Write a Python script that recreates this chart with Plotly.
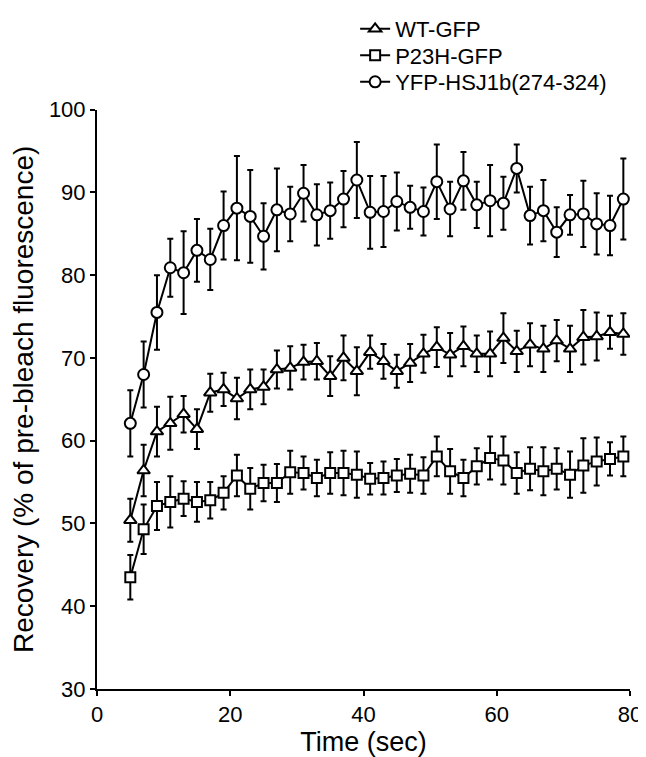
import plotly.graph_objects as go

time_sec = list(range(5, 80, 2))

wt_gfp = [50.4, 56.4, 61.1, 62.1, 63.2, 61.4, 65.8, 66.2, 65.1, 66.2,
          66.5, 68.6, 68.8, 69.5, 69.6, 67.8, 70.0, 68.4, 70.7, 69.6,
          68.4, 69.4, 70.5, 71.3, 70.4, 71.4, 70.5, 70.5, 72.4, 70.8,
          71.6, 71.1, 72.1, 71.1, 72.5, 72.6, 73.1, 72.9]
wt_gfp_err = [2.6, 3.1, 3.0, 3.2, 2.2, 2.4, 2.3, 2.0, 2.5, 2.4,
              2.1, 2.3, 2.6, 2.1, 2.2, 2.4, 2.7, 2.9, 2.0, 2.1,
              2.0, 2.3, 2.3, 2.4, 2.6, 2.4, 2.2, 2.7, 3.0, 2.5,
              2.6, 2.8, 2.5, 2.8, 3.3, 2.9, 2.0, 2.5]

p23h_gfp = [43.5, 49.3, 52.1, 52.6, 53.0, 52.6, 52.8, 53.7, 55.8, 54.2,
            54.9, 54.9, 56.2, 56.1, 55.5, 56.1, 56.1, 55.9, 55.4, 55.5,
            55.8, 56.0, 55.8, 58.1, 56.3, 55.5, 56.9, 57.9, 57.6, 56.1,
            56.6, 56.3, 56.6, 55.9, 57.0, 57.5, 57.8, 58.1]
p23h_gfp_err = [2.7, 3.0, 2.9, 3.1, 2.1, 2.4, 2.2, 2.0, 2.5, 2.5,
                2.2, 2.3, 2.6, 2.0, 2.2, 2.5, 2.7, 2.8, 1.9, 2.0,
                2.0, 2.3, 2.2, 2.4, 2.7, 2.2, 2.2, 2.6, 2.9, 2.5,
                2.6, 2.9, 2.5, 2.8, 3.3, 2.9, 2.0, 2.4]

yfp_hsj1b = [62.1, 68.0, 75.5, 80.9, 80.3, 83.0, 81.9, 86.0, 88.1, 87.1,
             84.7, 87.9, 87.4, 89.9, 87.3, 87.8, 89.2, 91.5, 87.6, 87.7,
             88.9, 88.2, 87.7, 91.3, 88.0, 91.4, 88.5, 89.0, 88.7, 92.9,
             87.2, 87.8, 85.2, 87.3, 87.4, 86.2, 86.0, 89.2]
yfp_hsj1b_err = [4.0, 4.0, 4.5, 3.5, 5.0, 3.8, 3.7, 4.1, 6.3, 5.6,
                 4.0, 5.0, 3.3, 3.4, 3.7, 3.4, 3.4, 4.6, 4.4, 4.3,
                 3.5, 2.6, 2.9, 4.5, 3.3, 3.5, 2.8, 4.3, 3.2, 2.9,
                 3.5, 3.7, 3.0, 2.4, 4.0, 3.7, 3.6, 4.9]

series = [
    ("WT-GFP", wt_gfp, wt_gfp_err, "triangle-up", 11, "legend"),
    ("P23H-GFP", p23h_gfp, p23h_gfp_err, "square", 10, "legend2"),
    ("YFP-HSJ1b(274-324)", yfp_hsj1b, yfp_hsj1b_err, "circle", 11, "legend3"),
]

FONT = "Arial, Liberation Sans, sans-serif"

fig = go.Figure()
for name, vals, errs, sym, size, leg in series:
    fig.add_trace(go.Scatter(
        x=time_sec, y=vals, name=name, mode="lines+markers", legend=leg,
        line=dict(color="black", width=2),
        marker=dict(symbol=sym, size=size, color="white",
                    line=dict(color="black", width=2)),
        error_y=dict(type="data", array=errs, visible=True,
                     color="black", thickness=2, width=3),
    ))

legend_common = dict(x=0.4843, xanchor="left", yanchor="top",
                     bgcolor="rgba(0,0,0,0)", font=dict(size=22),
                     itemwidth=30)

fig.update_layout(
    width=638, height=749,
    paper_bgcolor="white", plot_bgcolor="white",
    margin=dict(l=89, r=16, t=0, b=68),
    font=dict(family=FONT, size=22, color="black"),
    showlegend=True,
    legend=dict(y=1.0, **legend_common),
    legend2=dict(y=0.9611, **legend_common),
    legend3=dict(y=0.9222, **legend_common),
    xaxis=dict(range=[0, 80], tickvals=[0, 20, 40, 60, 80],
               showline=True, linecolor="black", linewidth=2,
               ticks="outside", ticklen=5, tickwidth=2, tickcolor="black",
               showgrid=False, zeroline=False, automargin=False,
               title=dict(text="Time (sec)", font=dict(size=27), standoff=5)),
    yaxis=dict(range=[30, 100], tickvals=[30, 40, 50, 60, 70, 80, 90, 100],
               domain=[0, 0.8507],
               showline=True, linecolor="black", linewidth=2,
               ticks="outside", ticklen=5, tickwidth=2, tickcolor="black",
               showgrid=False, zeroline=False, automargin=False,
               title=dict(text="Recovery (% of pre-bleach fluorescence)",
                          font=dict(size=28), standoff=12)),
)

fig.write_html("out.html")
